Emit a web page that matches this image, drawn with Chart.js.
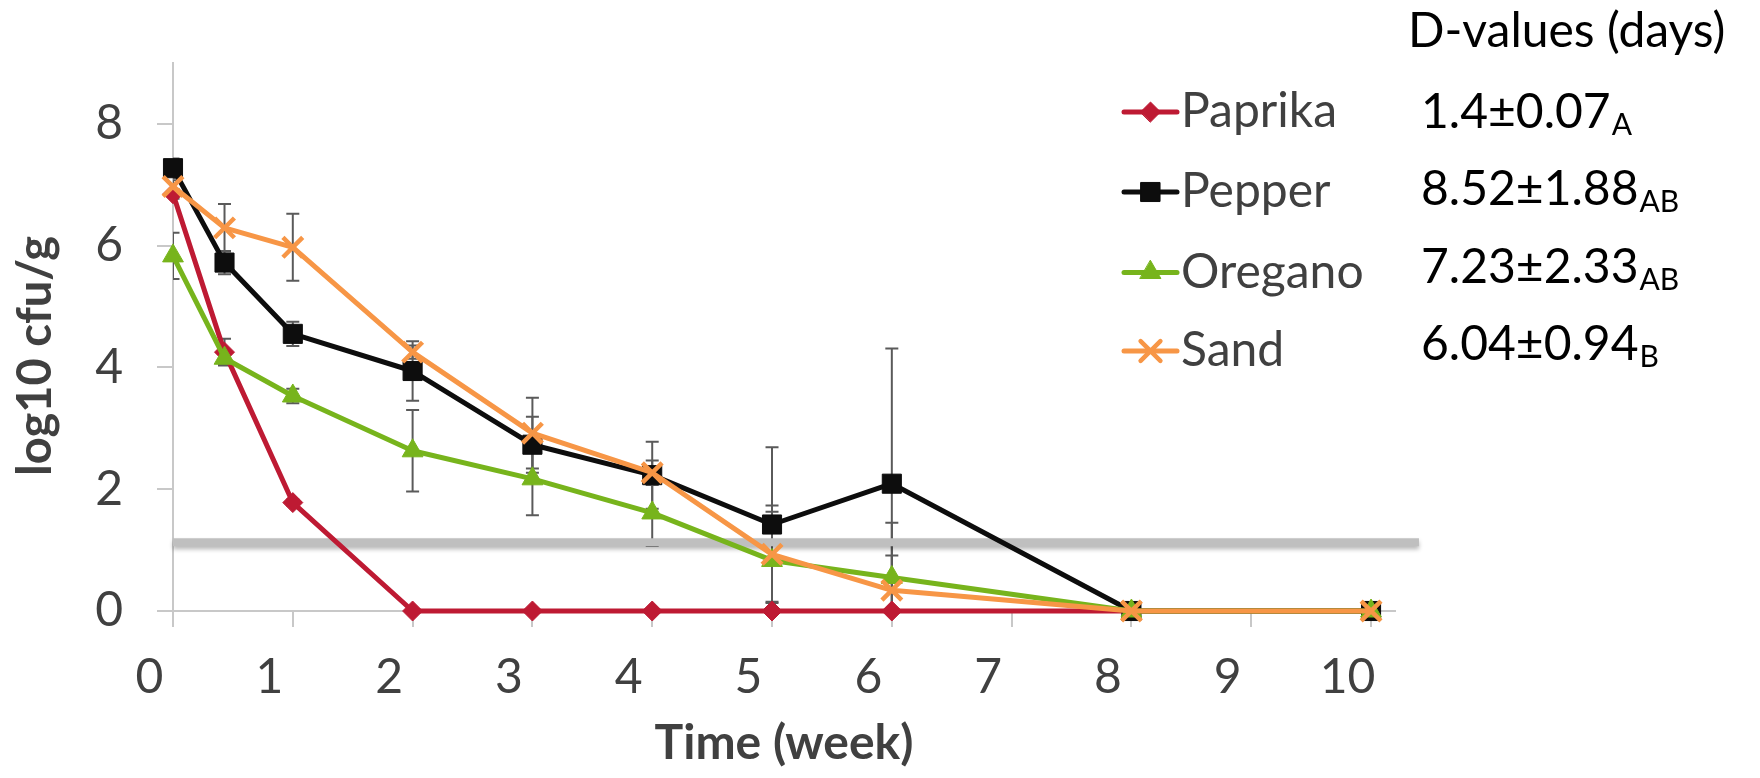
<!DOCTYPE html>
<html>
<head>
<meta charset="utf-8">
<title>Survival in spices and sand</title>
<script src="https://cdn.jsdelivr.net/npm/chart.js@4.4.1/dist/chart.umd.min.js"></script>
<style>
  html, body { margin: 0; padding: 0; background: #ffffff; }
  #wrap { width: 1760px; height: 778px; position: relative; }
</style>
</head>
<body>
<div id="wrap"><canvas id="chart" width="1760" height="778"></canvas></div>
<script>
// Sampling times (weeks) and log10 cfu/g counts for each matrix
const weeks = [0, 0.43, 1, 2, 3, 4, 5, 6, 8, 10];

const paprika = [6.85, 4.25, 1.78, 0, 0, 0, 0, 0, 0, 0];
const pepper  = [7.27, 5.72, 4.55, 3.94, 2.73, 2.23, 1.42, 2.09, 0, 0];
const oregano = [5.83, 4.15, 3.53, 2.63, 2.17, 1.61, 0.83, 0.55, 0, 0];
const sand    = [6.97, 6.29, 5.97, 4.25, 2.92, 2.27, 0.93, 0.34, 0, 0];

// Standard deviations (symmetric error bars)
const paprikaSd = [0.08, 0.22, 0.05, 0, 0, 0, 0, 0, 0, 0];
const pepperSd  = [0.16, 0.19, 0.20, 0.49, 0.46, 0.55, 1.27, 2.22, 0, 0];
const oreganoSd = [0.38, 0.10, 0.12, 0.67, 0.60, 0.54, 0.80, 0.90, 0, 0];
const sandSd    = [0.10, 0.39, 0.55, 0.11, 0.58, 0.20, 0.80, 0.57, 0, 0];

// Detection limit drawn as a horizontal band
const detectionLimit = 1.13;
const limitSpan = [0, 10.4];

// Axis ticks
const xTicks = [0, 1, 2, 3, 4, 5, 6, 7, 8, 9, 10];
const yTicks = [0, 2, 4, 6, 8];

// D-values (days) with statistical grouping letters
const seriesNames = ['Paprika', 'Pepper', 'Oregano', 'Sand'];
const dValues = ['1.4\u00B10.07', '8.52\u00B11.88', '7.23\u00B12.33', '6.04\u00B10.94'];
const dGroups = ['A', 'AB', 'AB', 'B'];

const FONT = 'Lato, "Open Sans", sans-serif';
const TEXT_GREY = '#404040';

function series(label, values, sd, color, style, radius, pointBorder, order) {
  return {
    label,
    data: weeks.map((w, i) => ({ x: w, y: values[i] })),
    errors: sd,
    borderColor: color,
    backgroundColor: color,
    pointBackgroundColor: color,
    pointBorderColor: color,
    pointStyle: style,
    pointRadius: radius,
    pointHoverRadius: radius,
    pointBorderWidth: pointBorder,
    borderWidth: 5,
    borderJoinStyle: 'round',
    borderCapStyle: 'round',
    tension: 0,
    clip: false,
    order
  };
}

const datasets = [
  series(seriesNames[0], paprika, paprikaSd, '#be1a33', 'rectRot', 10, 1, 4),
  series(seriesNames[1], pepper, pepperSd, '#0d0d0d', 'rect', 13.5, 1, 3),
  series(seriesNames[2], oregano, oreganoSd, '#77b41c', 'triangle', 12, 1, 2),
  series(seriesNames[3], sand, sandSd, '#f79646', 'crossRot', 14, 4.5, 1),
  {
    label: 'detection limit',
    isLimit: true,
    data: limitSpan.map(x => ({ x, y: detectionLimit })),
    borderColor: '#bfbfbf',
    borderWidth: 8,
    borderCapStyle: 'butt',
    pointRadius: 0,
    clip: false,
    order: 5
  }
];

// Error bars, clipped to the plot area
const errorBars = {
  id: 'errorBars',
  beforeDatasetsDraw(chart) {
    const { ctx, chartArea, scales: { x, y } } = chart;
    ctx.save();
    ctx.beginPath();
    ctx.rect(chartArea.left, chartArea.top, chartArea.right - chartArea.left, chartArea.bottom - chartArea.top);
    ctx.clip();
    ctx.strokeStyle = '#5a5a5a';
    ctx.lineWidth = 2;
    chart.data.datasets.forEach(ds => {
      if (!ds.errors) return;
      ds.data.forEach((p, i) => {
        const e = ds.errors[i];
        if (!e) return;
        const px = x.getPixelForValue(p.x);
        const top = y.getPixelForValue(p.y + e);
        const bot = y.getPixelForValue(p.y - e);
        ctx.beginPath();
        ctx.moveTo(px, top); ctx.lineTo(px, bot);
        ctx.moveTo(px - 6.5, top); ctx.lineTo(px + 6.5, top);
        ctx.moveTo(px - 6.5, bot); ctx.lineTo(px + 6.5, bot);
        ctx.stroke();
      });
    });
    ctx.restore();
  }
};

// Soft shadow under the detection-limit band
const bandShadow = {
  id: 'bandShadow',
  beforeDatasetDraw(chart, args) {
    const ds = chart.data.datasets[args.index];
    if (!ds.isLimit) return;
    const ctx = chart.ctx;
    ctx.save();
    ctx.shadowColor = 'rgba(0,0,0,0.28)';
    ctx.shadowBlur = 4;
    ctx.shadowOffsetY = 3;
  },
  afterDatasetDraw(chart, args) {
    const ds = chart.data.datasets[args.index];
    if (!ds.isLimit) return;
    chart.ctx.restore();
  }
};

// Y axis title, legend and D-value column
const annotations = {
  id: 'annotations',
  afterDraw(chart) {
    const ctx = chart.ctx;
    ctx.save();

    // y axis title
    ctx.save();
    ctx.translate(36, 356);
    ctx.rotate(-Math.PI / 2);
    ctx.font = 'bold 47px ' + FONT;
    ctx.fillStyle = TEXT_GREY;
    ctx.textAlign = 'center';
    ctx.textBaseline = 'middle';
    ctx.fillText('log10 cfu/g', 0, 0);
    ctx.restore();

    // heading of the D-value column
    ctx.font = '48px ' + FONT;
    ctx.fillStyle = '#000000';
    ctx.textAlign = 'left';
    ctx.textBaseline = 'alphabetic';
    ctx.fillText('D-values (days)', 1408, 47);

    const legendRows = [112, 192, 272.5, 351];
    const valueBaselines = [128, 205, 283, 360];
    const lineX0 = 1124, lineX1 = 1177, textX = 1181, valueX = 1421;

    const shown = chart.data.datasets.filter(d => !d.isLimit);
    shown.forEach((ds, i) => {
      const cy = legendRows[i];
      ctx.strokeStyle = ds.borderColor;
      ctx.fillStyle = ds.borderColor;
      ctx.lineWidth = 5;
      ctx.lineCap = 'round';
      ctx.beginPath();
      ctx.moveTo(lineX0, cy);
      ctx.lineTo(lineX1, cy);
      ctx.stroke();
      ctx.lineWidth = ds.pointBorderWidth;
      Chart.helpers.drawPoint(ctx, {
        pointStyle: ds.pointStyle,
        rotation: 0,
        radius: ds.pointRadius,
        borderWidth: ds.pointBorderWidth
      }, (lineX0 + lineX1) / 2, cy);

      ctx.font = '48px ' + FONT;
      ctx.fillStyle = TEXT_GREY;
      ctx.textBaseline = 'middle';
      ctx.fillText(ds.label, textX, cy);

      ctx.textBaseline = 'alphabetic';
      ctx.fillStyle = '#000000';
      const vy = valueBaselines[i];
      ctx.fillText(dValues[i], valueX, vy);
      const w = ctx.measureText(dValues[i]).width;
      ctx.font = '30px ' + FONT;
      ctx.fillText(dGroups[i], valueX + w + 1, vy + 7);
    });
    ctx.restore();
  }
};

Chart.defaults.font.family = FONT;

new Chart(document.getElementById('chart'), {
  type: 'line',
  data: { datasets },
  options: {
    responsive: false,
    animation: false,
    devicePixelRatio: 1,
    layout: { padding: { top: 59, right: 365, bottom: 0, left: 0 } },
    plugins: {
      legend: { display: false },
      tooltip: { enabled: false }
    },
    scales: {
      x: {
        type: 'linear',
        min: 0,
        max: 10.2,
        afterFit(scale) { scale.height = 167; },
        afterBuildTicks(scale) { scale.ticks = xTicks.map(v => ({ value: v })); },
        ticks: {
          color: TEXT_GREY,
          font: { size: 48, family: FONT },
          padding: 22,
          labelOffset: -23.5,
          maxRotation: 0,
          autoSkip: false
        },
        grid: { drawOnChartArea: false, drawTicks: true, tickLength: 16, color: '#c8c8c8', lineWidth: 2 },
        border: { display: true, color: '#c8c8c8', width: 2 },
        title: {
          display: true,
          text: 'Time (week)',
          color: TEXT_GREY,
          font: { size: 48, weight: 'bold', family: FONT },
          padding: { top: 0, bottom: 6 }
        }
      },
      y: {
        type: 'linear',
        min: 0,
        max: 9,
        afterFit(scale) { scale.width = 173; },
        afterBuildTicks(scale) { scale.ticks = yTicks.map(v => ({ value: v })); },
        ticks: {
          color: TEXT_GREY,
          font: { size: 48, family: FONT },
          padding: 34
        },
        grid: { drawOnChartArea: false, drawTicks: true, tickLength: 16, color: '#c8c8c8', lineWidth: 2 },
        border: { display: true, color: '#c8c8c8', width: 2 }
      }
    }
  },
  plugins: [errorBars, bandShadow, annotations]
});
</script>
</body>
</html>
